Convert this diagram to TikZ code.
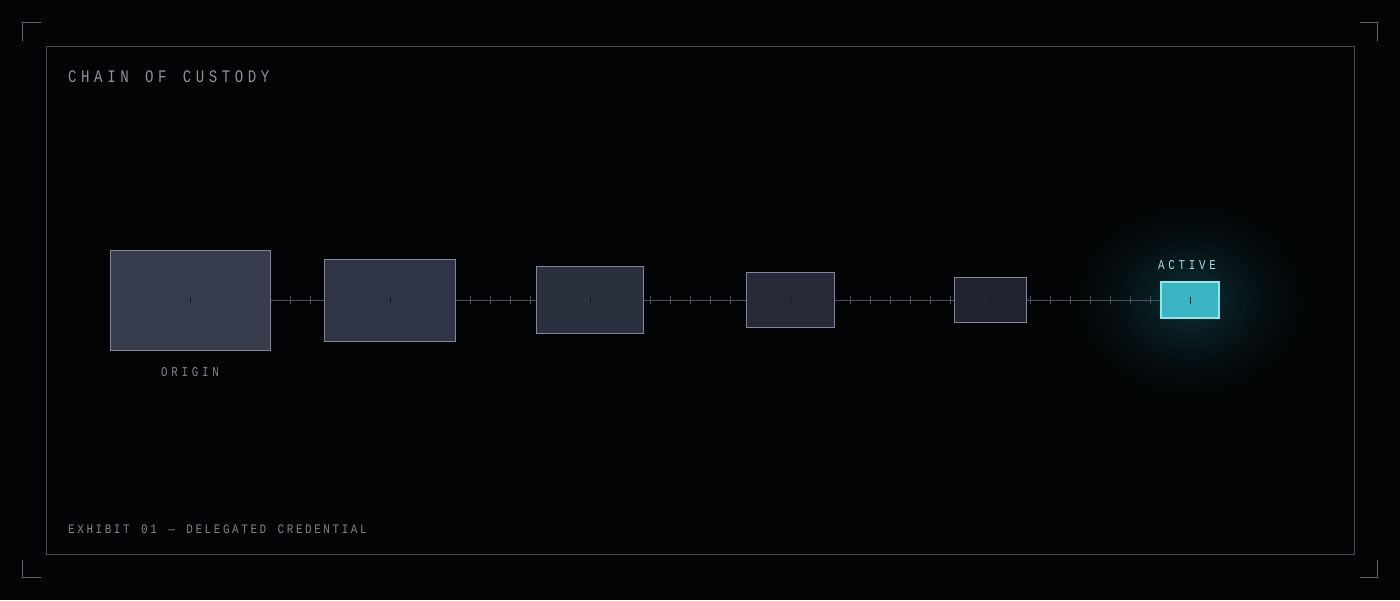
\documentclass[tikz,border=0pt]{standalone}
\usepackage{fontspec}
\newfontfamily\titlefont[FakeStretch=0.8,LetterSpace=26,WordSpace=1.25]{Liberation Mono}
\newfontfamily\footfont[FakeStretch=0.85,LetterSpace=20,WordSpace=1.25]{Liberation Mono}
\newfontfamily\labelfont[FakeStretch=0.8,LetterSpace=28]{Liberation Mono}
\definecolor{bgc}{HTML}{030405}
\definecolor{framec}{HTML}{464A56}
\definecolor{bracketc}{HTML}{5F6372}
\definecolor{titlec}{HTML}{8D919F}
\definecolor{footc}{HTML}{80848F}
\definecolor{labelc}{HTML}{7F8390}
\definecolor{activelabc}{HTML}{9EE0E6}
\definecolor{boxborder}{HTML}{82869A}
\definecolor{fillA}{HTML}{373C4C}
\definecolor{fillB}{HTML}{303545}
\definecolor{fillC}{HTML}{2B303E}
\definecolor{fillD}{HTML}{262A37}
\definecolor{fillE}{HTML}{21242F}
\definecolor{activefill}{HTML}{3AB4C3}
\definecolor{activeborder}{HTML}{8EE8F0}
\definecolor{connc}{HTML}{4C505E}
\definecolor{ctickc}{HTML}{14171E}
\definecolor{glowc}{HTML}{0B292E}
\pgfdeclareradialshading{glow}{\pgfpointorigin}{%
  color(0bp)=(glowc); color(5bp)=(glowc!85!bgc); color(10bp)=(glowc!55!bgc);
  color(15bp)=(glowc!28!bgc); color(20bp)=(glowc!10!bgc); color(25bp)=(bgc); color(50bp)=(bgc)}
\tikzset{
  stagebox/.style={draw=boxborder, line width=1pt, inner sep=0pt},
  activebox/.style={draw=activeborder, line width=1.8pt, fill=activefill, inner sep=0pt,
    minimum width=58pt, minimum height=36pt},
  conn/.style={draw=connc, line width=1pt},
  tickmark/.style={draw=connc, line width=1pt},
  centertick/.style={draw=ctickc, line width=1pt},
  bracket/.style={draw=bracketc, line width=1pt},
  titletext/.style={font=\titlefont\fontsize{17.6}{20}\selectfont, text=titlec, inner sep=0pt, anchor=base west},
  foottext/.style={font=\footfont\fontsize{12.9}{15}\selectfont, text=footc, inner sep=0pt, anchor=base west},
  labeltext/.style={font=\labelfont\fontsize{13.5}{16}\selectfont, inner sep=0pt, anchor=base},
}
\begin{document}
\begin{tikzpicture}[x=1pt,y=-1pt]
\useasboundingbox (0,0) rectangle (1400,600);
\fill[bgc] (0,0) rectangle (1400,600);
% glow
\shade[shading=glow] (1190,300) ellipse (125pt and 105pt);
% frame
\draw[framec, line width=1pt] (46.5,46.5) rectangle (1354.5,554.5);
% corner brackets
\draw[bracket] (22.5,40.5) -- (22.5,22.5) -- (40.5,22.5);
\draw[bracket] (1359.5,22.5) -- (1377.5,22.5) -- (1377.5,40.5);
\draw[bracket] (22.5,559.5) -- (22.5,577.5) -- (40.5,577.5);
\draw[bracket] (1359.5,577.5) -- (1377.5,577.5) -- (1377.5,559.5);
% texts
\node[titletext] (title) at (68,82.3) {CHAIN OF CUSTODY};
\node[foottext] (foot) at (68,533.3) {EXHIBIT 01 — DELEGATED CREDENTIAL};
% boxes
\node[stagebox, fill=fillA, minimum width=160pt, minimum height=100pt] (b1) at (190,300) {};
\node[stagebox, fill=fillB, minimum width=131pt, minimum height=82pt] (b2) at (390,300) {};
\node[stagebox, fill=fillC, minimum width=107pt, minimum height=67pt] (b3) at (590,300) {};
\node[stagebox, fill=fillD, minimum width=88pt, minimum height=55pt] (b4) at (790,300) {};
\node[stagebox, fill=fillE, minimum width=72pt, minimum height=45pt] (b5) at (990,300) {};
\node[activebox] (b6) at (1190,300) {};
% connectors
\draw[conn] (b1.east) -- (b2.west);
\draw[conn] (b2.east) -- (b3.west);
\draw[conn] (b3.east) -- (b4.west);
\draw[conn] (b4.east) -- (b5.west);
\draw[conn] (b5.east) -- (b6.west);
% ticks along connectors
\foreach \x in {290,310,470,490,510,530,650,670,690,710,730,850,870,890,910,930,950,1030,1050,1070,1090,1110,1130,1150}
  \draw[tickmark] (\x,296) -- (\x,304);
% center ticks
\foreach \b in {b1,b2,b3,b4,b5}
  \draw[centertick] ([yshift=-3pt]\b.center) -- ([yshift=3pt]\b.center);
\draw[draw=glowc!60!black, line width=1pt] ([yshift=-3.5pt]b6.center) -- ([yshift=3.5pt]b6.center);
% labels
\node[labeltext, text=labelc] (origin) at (190,376) {ORIGIN};
\node[labeltext, text=activelabc] (active) at (1187,269) {ACTIVE};
\end{tikzpicture}
\end{document}
